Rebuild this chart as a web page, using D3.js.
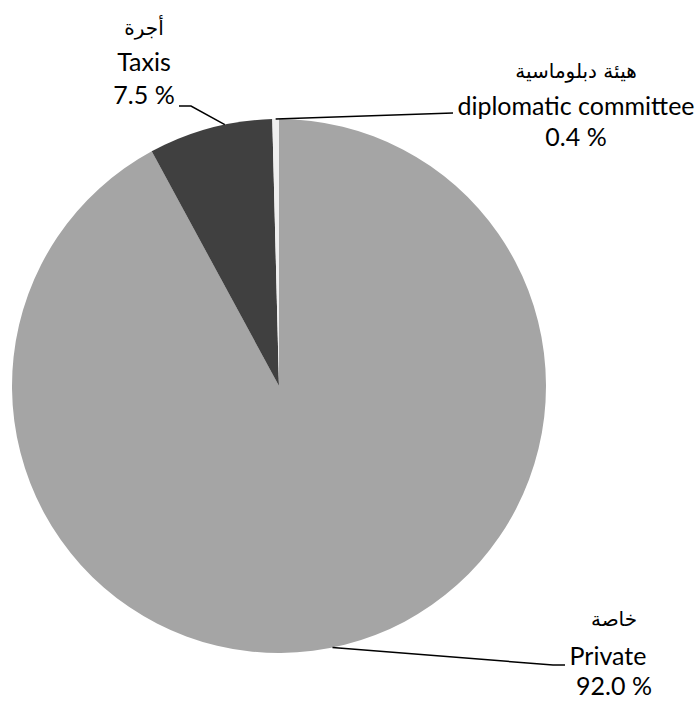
<!DOCTYPE html>
<html><head><meta charset="utf-8">
<script src="https://cdn.jsdelivr.net/npm/d3@7"></script>
<style>body{margin:0;background:#fff}svg{display:block}
text{font-family:Lato,"Open Sans",sans-serif;font-size:25px;fill:#000}
tspan.ar{font-family:"DejaVu Sans",sans-serif;font-size:20px;font-weight:normal}</style>
</head><body>
<script>
const categoriesAr = ["خاصة", "أجرة", "هيئة دبلوماسية"];
const categoriesEn = ["Private", "Taxis", "diplomatic committee"];
const values = [92.0, 7.5, 0.4];
const valueLabels = ["92.0 %", "7.5 %", "0.4 %"];
const colors = ["#a5a5a5", "#404040", "#efefef"];

const W = 699, H = 701, cx = 279, cy = 386, R = 267;
const svg = d3.select("body").append("svg").attr("width", W).attr("height", H);
const pie = d3.pie().sort(null).value(d => d)(values);
const arc = d3.arc().innerRadius(0).outerRadius(R);
const g = svg.append("g").attr("transform", `translate(${cx},${cy})`);
g.selectAll("path").data(pie).enter().append("path")
  .attr("d", arc).attr("fill", (d, i) => colors[i]);

// label layout: line centres x, baselines of the three lines, leader polyline start points
const labelPos = [
  {xs: [614, 608, 614], ys: [626, 665, 695], leader: [[565, 665], [553, 665]], frac: null, ang: 2.94},
  {xs: [144, 144, 144], ys: [35, 71, 104], leader: [[179, 106], [191, 106]], frac: 0.62},
  {xs: [576, 576, 576], ys: [78, 115, 146], leader: [[453, 113]], frac: 0.5}
];
labelPos.forEach((p, i) => {
  const t = svg.append("text").attr("text-anchor", "middle");
  [categoriesAr[i], categoriesEn[i], valueLabels[i]].forEach((s, k) => {
    t.append("tspan").attr("class", k === 0 ? "ar" : null).attr("x", p.xs[k]).attr("y", p.ys[k]).text(s);
  });
  const d = pie[i];
  const ang = p.frac === null ? p.ang : d.startAngle + (d.endAngle - d.startAngle) * p.frac;
  const ex = cx + R * Math.sin(ang), ey = cy - R * Math.cos(ang);
  const pts = p.leader.concat([[ex, ey]]);
  svg.append("path").attr("d", d3.line()(pts)).attr("fill", "none").attr("stroke", "#000").attr("stroke-width", 1.5);
});
</script>
</body></html>
